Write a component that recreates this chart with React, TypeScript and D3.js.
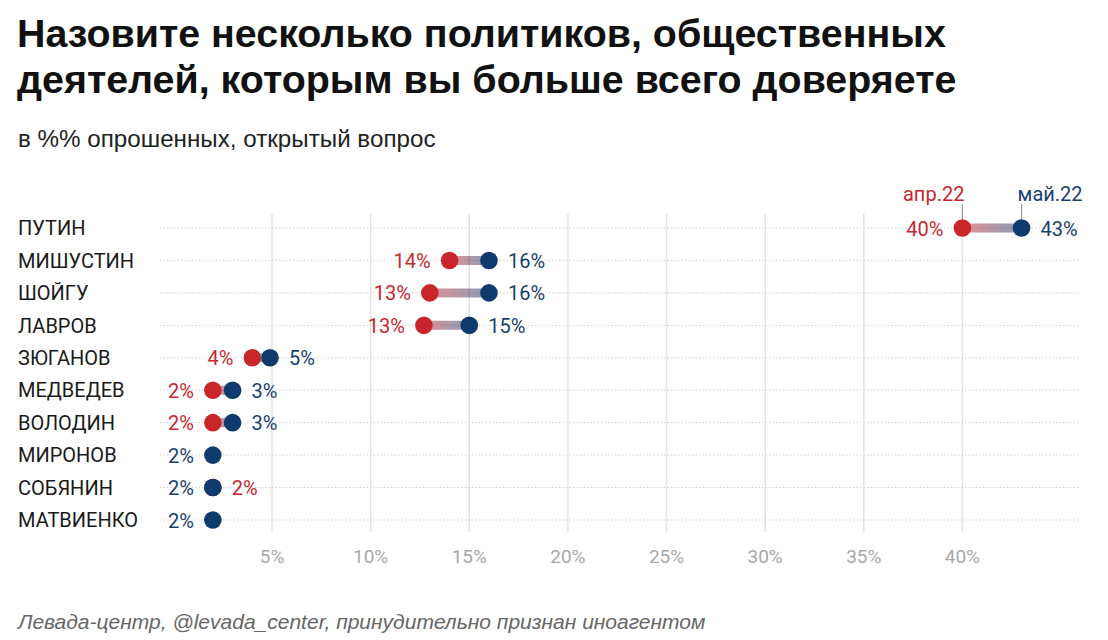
import { useMemo } from "react";
import * as d3 from "d3";

const WIDTH = 1108;
const HEIGHT = 640;
const MARGIN = { top: 212, right: 28, bottom: 108, left: 160 };

const NAMES = [
  "ПУТИН",
  "МИШУСТИН",
  "ШОЙГУ",
  "ЛАВРОВ",
  "ЗЮГАНОВ",
  "МЕДВЕДЕВ",
  "ВОЛОДИН",
  "МИРОНОВ",
  "СОБЯНИН",
  "МАТВИЕНКО",
];
const APR = [40, 14, 13, 12.7, 4, 2, 2, null, 2, null];
const MAY = [43, 16, 16, 15, 4.9, 3, 3, 2, 2, 2];
const X_TICKS = [5, 10, 15, 20, 25, 30, 35, 40];
const SERIES_LABELS = ["апр.22", "май.22"];

const RED = "#c9262c";
const BLUE = "#0f3a6d";
const RED_TEXT = "#c4292f";
const BLUE_TEXT = "#1a3f6e";
const FONT = "Roboto, 'Noto Sans', sans-serif";
const TITLE_FONT = "'Liberation Sans', Arial, sans-serif";

export default function App() {
  const boundsWidth = WIDTH - MARGIN.left - MARGIN.right;
  const boundsHeight = HEIGHT - MARGIN.top - MARGIN.bottom;

  // 0% sits at x≈173, 40% at x≈962
  const xScale = useMemo(
    () => d3.scaleLinear().domain([0, 40]).range([173.4 - MARGIN.left, 962.4 - MARGIN.left]),
    []
  );
  const yScale = useMemo(
    () => d3.scalePoint<string>().domain(NAMES).range([16, 308]),
    []
  );

  const fmt = (v: number) => `${Math.round(v)}%`;

  return (
    <svg
      width={WIDTH}
      height={HEIGHT}
      style={{ position: "absolute", left: 0, top: 0, background: "#fff" }}
    >
      <defs>
        {NAMES.map((n, i) => {
          const a = APR[i];
          const m = MAY[i];
          if (a == null) return null;
          return (
            <linearGradient
              key={n}
              id={`grad-${i}`}
              gradientUnits="userSpaceOnUse"
              x1={xScale(a)}
              x2={xScale(m)}
              y1={0}
              y2={0}
            >
              <stop offset="0%" stopColor={RED} />
              <stop offset="100%" stopColor={BLUE} />
            </linearGradient>
          );
        })}
      </defs>

      <text x={17} y={47} fontFamily={TITLE_FONT} fontWeight="bold" fontSize={39.4} fill="#111">
        Назовите несколько политиков, общественных
      </text>
      <text x={17} y={93} fontFamily={TITLE_FONT} fontWeight="bold" fontSize={39.4} fill="#111">
        деятелей, которым вы больше всего доверяете
      </text>
      <text x={18} y={147} fontFamily={TITLE_FONT} fontSize={24.2} fill="#222">
        в %% опрошенных, открытый вопрос
      </text>

      <g transform={`translate(${MARGIN.left},${MARGIN.top})`}>
        {/* vertical grid */}
        {X_TICKS.map((t) => (
          <g key={t}>
            <line
              x1={xScale(t)}
              x2={xScale(t)}
              y1={2}
              y2={boundsHeight}
              stroke="#e3e3e3"
              strokeWidth={1.5}
            />
            <text
              x={xScale(t)}
              y={boundsHeight + 31}
              textAnchor="middle"
              fontFamily={FONT}
              fontSize={19}
              fill="#a8a8a8"
            >
              {t}%
            </text>
          </g>
        ))}

        {/* rows */}
        {NAMES.map((n, i) => {
          const y = yScale(n) ?? 0;
          return (
            <g key={n}>
              <line
                x1={0}
                x2={boundsWidth - 1}
                y1={y}
                y2={y}
                stroke="#cfcfcf"
                strokeWidth={1}
                strokeDasharray="1.5,2"
              />
              <text
                x={18 - MARGIN.left}
                y={y}
                dy="0.36em"
                fontFamily={FONT}
                fontSize={20}
                fill="#1a1a1a"
              >
                {n}
              </text>
            </g>
          );
        })}

        {/* segments and dots */}
        {NAMES.map((n, i) => {
          const y = yScale(n) ?? 0;
          const a = APR[i];
          const m = MAY[i];
          const xm = xScale(m);
          const redLeft = a != null && a < m;
          return (
            <g key={n}>
              {a != null && (
                <>
                  <line
                    x1={xScale(a)}
                    x2={xm}
                    y1={y}
                    y2={y}
                    stroke={`url(#grad-${i})`}
                    strokeOpacity={0.5}
                    strokeWidth={9}
                  />
                  <circle cx={xScale(a)} cy={y} r={8.8} fill={RED} />
                  <text
                    x={redLeft ? xScale(a) - 19 : xScale(a) + 19}
                    y={y}
                    dy="0.38em"
                    textAnchor={redLeft ? "end" : "start"}
                    fontFamily={FONT}
                    fontSize={20}
                    fill={RED_TEXT}
                  >
                    {fmt(a)}
                  </text>
                </>
              )}
              <circle cx={xm} cy={y} r={8.8} fill={BLUE} />
              <text
                x={redLeft ? xm + 19 : xm - 19}
                y={y}
                dy="0.38em"
                textAnchor={redLeft ? "start" : "end"}
                fontFamily={FONT}
                fontSize={20}
                fill={BLUE_TEXT}
              >
                {fmt(m)}
              </text>
            </g>
          );
        })}

        {/* series legend on first row */}
        {(() => {
          const y = yScale(NAMES[0]) ?? 0;
          const xa = xScale(APR[0] as number);
          const xm = xScale(MAY[0]);
          return (
            <g>
              <line x1={xa} x2={xa} y1={y - 9} y2={y - 24} stroke="#999" strokeWidth={1.2} />
              <line x1={xm} x2={xm} y1={y - 9} y2={y - 24} stroke="#999" strokeWidth={1.2} />
              <text
                x={xa + 2}
                y={y - 27}
                textAnchor="end"
                fontFamily={FONT}
                fontSize={20}
                fill={RED_TEXT}
              >
                {SERIES_LABELS[0]}
              </text>
              <text
                x={xm - 4}
                y={y - 27}
                textAnchor="start"
                fontFamily={FONT}
                fontSize={20}
                fill={BLUE_TEXT}
              >
                {SERIES_LABELS[1]}
              </text>
            </g>
          );
        })()}
      </g>

      <text
        x={18}
        y={629}
        fontFamily={TITLE_FONT}
        fontStyle="italic"
        fontSize={21}
        fill="#666"
      >
        Левада-центр, @levada_center, принудительно признан иноагентом
      </text>
    </svg>
  );
}
